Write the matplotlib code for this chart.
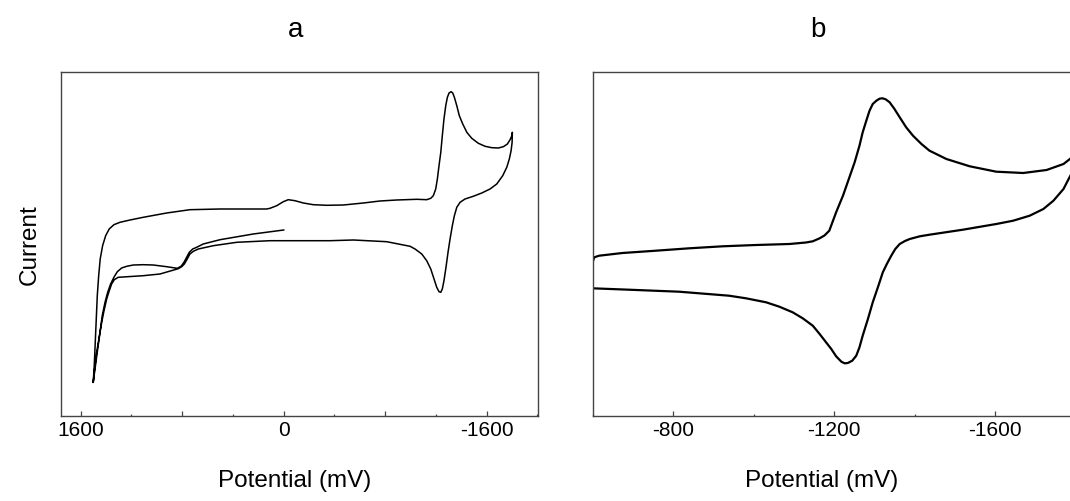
import numpy as np
import matplotlib.pyplot as plt
from matplotlib.ticker import FixedLocator, MultipleLocator

plt.rcParams['font.family'] = ['Liberation Sans', 'DejaVu Sans']

# ---- panel a (mV, arbitrary current) ----
# first sweep: 0 mV -> positive vertex
a1_E = [0, 240, 502, 634, 686, 717, 744, 765, 786, 809, 839, 922, 1028, 1107, 1185, 1237, 1277,
        1311, 1338, 1364, 1387, 1408, 1430, 1448, 1469, 1487, 1501]
a1_I = [186, 182, 176.3, 172, 168.7, 167, 163.7, 158.7, 153.7, 149.7, 147.7, 149.3, 151, 151.3, 151,
        149.7, 148, 144.3, 138.7, 132, 123.7, 113.7, 100.3, 83.7, 63.7, 47, 33.7]
# positive vertex -> negative vertex
a2_E = [1493, 1485, 1477, 1469, 1458, 1446, 1427, 1403, 1375, 1338, 1290, 1211, 1107, 922, 739, 502,
        134, 108, 55, 3, -36, -89, -155, -233, -339, -470, -628, -759, -891, -1048, -1127, -1159,
        -1179, -1198, -1211, -1224, -1238, -1250, -1263, -1277, -1290, -1303, -1319, -1332, -1345,
        -1364, -1384, -1411, -1443, -1482, -1534, -1587, -1640, -1692, -1731, -1763, -1784, -1798, -1802]
a2_I = [50.3, 73.7, 97, 120.3, 140.3, 157, 170.3, 180.3, 187, 191.3, 193.7, 196, 198.7, 203, 206.3, 207,
        207, 207.7, 210.3, 214.3, 216.3, 215.3, 213, 211.3, 210.7, 211, 213, 215, 216, 216.7, 216.3, 217.7,
        220.3, 227, 237, 250.3, 263.7, 280.3, 297, 310.3, 318.7, 323, 324.3, 323, 318.7,
        310.3, 300.3, 292, 283.7, 277.7, 272.7, 269.7, 268.3, 268, 269.3, 272, 276.3, 280.3, 283.7]
# negative vertex -> positive vertex
a3_E = [-1800, -1792, -1778, -1758, -1726, -1679, -1626, -1561, -1494, -1429, -1390, -1364, -1345,
        -1329, -1311, -1295, -1279, -1263, -1250, -1238, -1224, -1206, -1185, -1159, -1127, -1088,
        -1035, -996, -943, -812, -549, -365, -155, 108, 370, 555, 673, 712, 739, 760, 783, 804, 831,
        975, 1107, 1237, 1304, 1335, 1356, 1377, 1395, 1416, 1434, 1456, 1474, 1490, 1501]
a3_I = [273.7, 265.3, 257, 248.7, 240.3, 232, 227, 223, 219.7, 217, 213.7, 208.7, 200.3,
        190.3, 177, 163.7, 148.7, 135.3, 127, 123.7, 124.3, 128.7, 137, 147, 155.3, 162,
        167, 169.7, 171, 174.3, 176, 175.3, 175.3, 175.3, 173.7, 170.3, 167, 164.7, 162, 157, 152, 149.3, 147.3,
        142, 140.3, 139.3, 138.7, 136.3, 132, 124.3, 117, 105.3, 93.7, 77, 63.7, 47, 33.7]

# ---- panel b ----
b1_E = [-600, -604, -616, -674, -757, -840, -923, -1006, -1089, -1130, -1147, -1164, -1176, -1188,
        -1205, -1222, -1238, -1251, -1263, -1271, -1280, -1288, -1296, -1305, -1313, -1320, -1328,
        -1338, -1350, -1363, -1379, -1396, -1417, -1437, -1479, -1537, -1603, -1670, -1728, -1770,
        -1786, -1801, -1812]
b1_I = [154, 158.7, 160.3, 163, 165.3, 167.7, 169.7, 171, 172, 173.5, 174.7, 177.7, 180.5, 185.3,
        203.7, 220.3, 238.7, 253.7, 270.3, 283.7, 295.3, 305.3, 312, 315.3, 317.3, 317.7, 316.7,
        313.7, 307, 298.7, 288.7, 280.3, 272, 265.3, 257, 249.7, 244.3, 243, 246, 252,
        257, 262.5, 266]
b2_E = [-1800, -1786, -1770, -1745, -1720, -1686, -1645, -1603, -1520, -1437, -1413, -1388, -1376,
        -1363, -1352, -1342, -1331, -1321, -1309, -1296, -1284, -1271, -1263, -1255, -1245, -1234,
        -1226, -1218, -1205, -1193, -1180, -1164, -1147, -1122, -1097, -1064, -1031, -981, -939,
        -815, -690, -599]
b2_I = [250, 239.5, 227, 215.3, 207, 200.3, 195.3, 192, 186.3, 181.3, 179.7, 177, 175,
        172, 167, 160.3, 152, 143.7, 129, 113.7, 97, 80.3, 68.7, 60.3, 55.3, 53,
        52.7, 54.3, 59.7, 67, 73.7, 82, 90.3, 97.7, 103.7, 109.3, 113.7, 117.7, 120.3,
        124.3, 126.3, 127.7]

a_E = np.concatenate([a1_E, a2_E, a3_E])
a_I = np.concatenate([a1_I, a2_I, a3_I])
b_E = np.concatenate([b1_E, b2_E])
b_I = np.concatenate([b1_I, b2_I])

fig = plt.figure(figsize=(10.7, 5.02), dpi=100)
ax1 = fig.add_axes([0.057, 0.1693, 0.4458, 0.6859])
ax2 = fig.add_axes([0.5539, 0.1693, 0.4513, 0.6859])

ax1.plot(a_E, a_I, color='black', lw=1.1, solid_joinstyle='round')
ax2.plot(b_E, b_I, color='black', lw=1.6, solid_joinstyle='round')

ax1.set_xlim(1755, -2004)
ax2.set_xlim(-600, -1800)
for ax in (ax1, ax2):
    ax.set_ylim(0, 344.3)
    ax.set_yticks([])
    for s in ax.spines.values():
        s.set_color('#444444')
        s.set_linewidth(1.0)
    ax.tick_params(axis='x', which='major', direction='in', length=3.4, width=0.9,
                   labelsize=15, pad=3, color='#444444')
    ax.tick_params(axis='x', which='minor', direction='in', length=1.7, width=0.9, color='#444444')

ax1.xaxis.set_major_locator(FixedLocator([1600, 800, 0, -800, -1600]))
ax1.set_xticklabels(['1600', '', '0', '', '-1600'])
ax1.xaxis.set_minor_locator(MultipleLocator(400))
ax2.xaxis.set_major_locator(FixedLocator([-800, -1200, -1600]))
ax2.set_xticklabels(['-800', '-1200', '-1600'])
ax2.xaxis.set_minor_locator(MultipleLocator(200))

fig.text(296 / 1070, 1 - 30 / 502, 'a', fontsize=20, ha='center', va='center')
fig.text(818 / 1070, 1 - 30 / 502, 'b', fontsize=20, ha='center', va='center')
fig.text(295 / 1070, 1 - 481 / 502, 'Potential (mV)', fontsize=17.5, ha='center', va='center')
fig.text(822 / 1070, 1 - 481 / 502, 'Potential (mV)', fontsize=17.5, ha='center', va='center')
fig.text(30 / 1070, 1 - 245 / 502, 'Current', fontsize=17.5, ha='center', va='center', rotation=90)

fig.savefig('out.png', dpi=100)
